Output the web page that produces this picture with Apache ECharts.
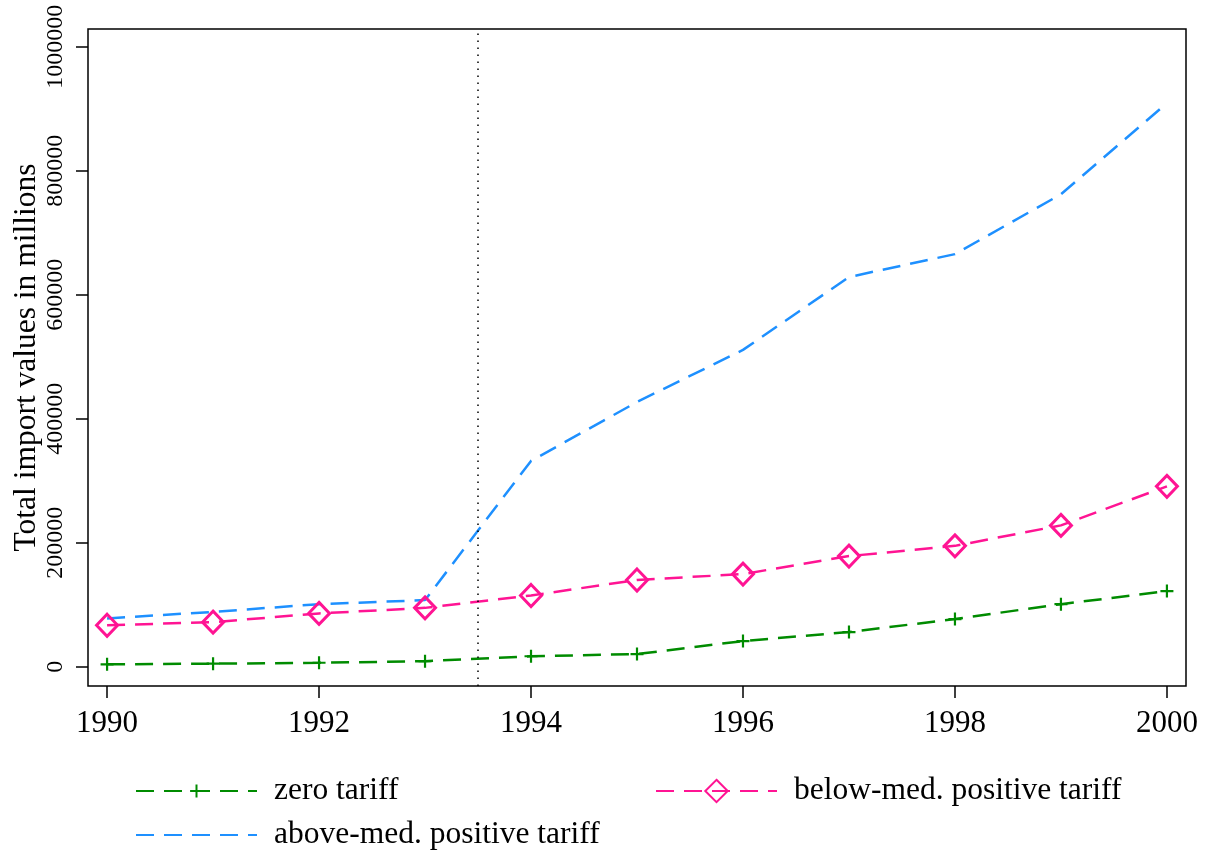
<!DOCTYPE html>
<html>
<head>
<meta charset="utf-8">
<script src="https://cdn.jsdelivr.net/npm/echarts@6/dist/echarts.min.js"></script>
<style>
  html, body { margin: 0; padding: 0; background: #ffffff; }
  #chart { width: 1211px; height: 854px; }
</style>
</head>
<body>
<div id="chart"></div>
<script>
// Yearly total import values (millions) by tariff group
const years = [1990, 1991, 1992, 1993, 1994, 1995, 1996, 1997, 1998, 1999, 2000];
const zeroTariff = [4000, 5000, 6500, 9000, 17000, 20500, 41500, 56000, 77000, 101000, 122000];
const belowMedTariff = [67000, 72000, 86000, 95000, 115000, 140000, 149500, 178500, 195000, 228000, 291000];
const aboveMedTariff = [78000, 88500, 101000, 107500, 332000, 427000, 511000, 628500, 665500, 762000, 909000];

const xTicks = [1990, 1992, 1994, 1996, 1998, 2000];
const yTicks = [0, 200000, 400000, 600000, 800000, 1000000];
const reformYear = 1993.5;

const seriesNames = ['zero tariff', 'below-med. positive tariff', 'above-med. positive tariff'];

const serif = 'Liberation Serif, Times New Roman, serif';
const dash = [18, 10];
const plusPath = 'path://M0,6L12,6M6,0L6,12';

function pairs(vals) { return years.map((y, i) => [y, vals[i]]); }

const chart = echarts.init(document.getElementById('chart'), null, { renderer: 'canvas' });

chart.setOption({
  animation: false,
  backgroundColor: '#ffffff',
  grid: {
    left: 88, top: 29, right: 25, bottom: 168,
    outerBoundsMode: 'none', containLabel: false,
    show: true, borderColor: '#000000', borderWidth: 1.5, backgroundColor: 'transparent'
  },
  xAxis: {
    type: 'value',
    min: 1989.82, max: 2000.18,
    axisLine: { show: false, onZero: false },
    splitLine: { show: false },
    axisTick: { show: true, inside: false, length: 12, customValues: xTicks,
      lineStyle: { color: '#000000', width: 1.5 } },
    axisLabel: { customValues: xTicks, margin: 22, color: '#000000',
      fontFamily: serif, fontSize: 31, formatter: v => String(v) }
  },
  yAxis: {
    type: 'value',
    min: -31000, max: 1028500,
    name: 'Total import values in millions',
    nameLocation: 'middle',
    nameRotate: 90,
    nameGap: 45,
    nameMoveOverlap: false,
    nameTextStyle: { fontFamily: serif, fontSize: 31.5, color: '#000000' },
    axisLine: { show: false, onZero: false },
    splitLine: { show: false },
    axisTick: { show: true, inside: false, length: 12, customValues: yTicks,
      lineStyle: { color: '#000000', width: 1.5 } },
    axisLabel: { customValues: yTicks, rotate: 90, margin: 20, color: '#000000',
      fontFamily: serif, fontSize: 24, formatter: v => String(v) }
  },
  legend: [
    { data: [seriesNames[0]], left: 135, top: 775, itemHeight: 16 },
    { data: [seriesNames[1]], left: 655, top: 775, itemHeight: 28 },
    { data: [seriesNames[2]], left: 135, top: 819, itemHeight: 20 }
  ].map(l => Object.assign({
    orient: 'horizontal', padding: 0, itemWidth: 121,
    textStyle: { fontFamily: serif, fontSize: 31.5, color: '#000000', padding: [0, 0, 0, 12], lineHeight: 30 }
  }, l)),
  series: [
    {
      name: seriesNames[0], type: 'line', data: pairs(zeroTariff),
      symbol: plusPath, symbolSize: 13,
      itemStyle: { color: 'transparent', borderColor: '#008B00', borderWidth: 2.2 },
      lineStyle: { color: '#008B00', width: 2.5, type: dash },
      z: 3
    },
    {
      name: seriesNames[1], type: 'line', data: pairs(belowMedTariff),
      symbol: 'diamond', symbolSize: [21, 22],
      itemStyle: { color: 'transparent', borderColor: '#FF1493', borderWidth: 3 },
      lineStyle: { color: '#FF1493', width: 2.5, type: dash },
      z: 3
    },
    {
      name: seriesNames[2], type: 'line', data: pairs(aboveMedTariff),
      symbol: 'circle', showSymbol: false,
      itemStyle: { color: 'transparent', borderWidth: 0 },
      lineStyle: { color: '#1E90FF', width: 2.5, type: dash },
      z: 2,
      markLine: {
        silent: true, symbol: 'none', label: { show: false },
        lineStyle: { color: '#000000', width: 1.5, type: [1.5, 5.5] },
        data: [{ xAxis: reformYear }]
      }
    }
  ]
});
</script>
</body>
</html>
